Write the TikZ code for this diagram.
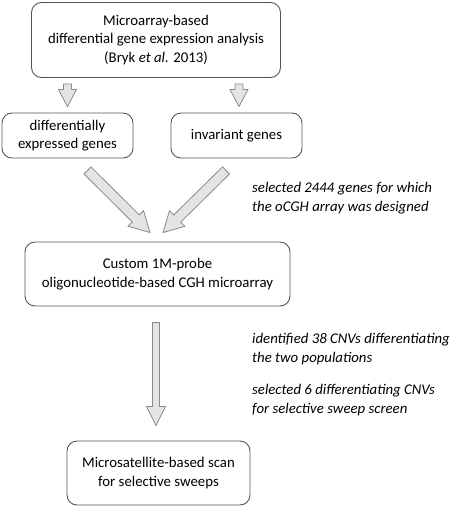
\documentclass[tikz,border=0pt]{standalone}
\usepackage{fontspec}
\setmainfont{Carlito}
\usetikzlibrary{calc}
\definecolor{boxline}{HTML}{555555}
\definecolor{arrfill}{HTML}{E4E4E4}
\definecolor{arrline}{HTML}{8A8A8A}
\tikzset{
  box/.style={draw=boxline, line width=0.9pt, rounded corners=10pt, align=center, inner sep=0pt, font=\fontsize{14.8}{18.5}\selectfont},
  note/.style={anchor=west, align=left, inner sep=0pt, font=\fontsize{14.8}{18.5}\selectfont\itshape},
  blockarr/.style={draw=arrline, fill=arrfill, line width=0.8pt, line join=miter},
}
\newcommand\blockarrow[5]{%
  \path let \p1=(#1), \p2=(#2) in \pgfextra{%
    \pgfmathsetmacro\barang{atan2(\y2-\y1,\x2-\x1)}\xdef\barang{\barang}%
    \pgfmathsetmacro\barlen{veclen(\x2-\x1,\y2-\y1)}\xdef\barlen{\barlen}};
  \begin{scope}[shift={(#1)}, rotate=\barang]
    \draw[blockarr] (0,#3) -- ({\barlen-#5},#3) -- ({\barlen-#5},#4) -- (\barlen,0)
      -- ({\barlen-#5},-#4) -- ({\barlen-#5},-#3) -- (0,-#3) -- cycle;
  \end{scope}}
\begin{document}
\begin{tikzpicture}[x=1pt,y=1pt]
\useasboundingbox (0,0) rectangle (454,-507);
\node[box, minimum width=249pt, minimum height=75pt] (top) at (156,-40)
  {Microarray-based\\differential gene expression analysis\\(Bryk \textit{et al.} 2013)};
\node[box, minimum width=131pt, minimum height=45pt] (left) at (67.5,-135.5)
  {differentially\\expressed genes};
\node[box, minimum width=131pt, minimum height=45pt] (right) at (236.5,-135.5)
  {invariant genes};
\node[box, minimum width=265pt, minimum height=64pt] (mid) at (157.5,-274)
  {Custom 1M-probe\\oligonucleotide-based CGH microarray};
\node[box, minimum width=183pt, minimum height=64pt] (bot) at (158.5,-473)
  {Microsatellite-based scan\\for selective sweeps};
\node[note] (n1) at (252,-198) {selected 2444 genes for which\\the oCGH array was designed};
\node[note] (n2) at (252,-349) {identified 38 CNVs differentiating\\the two populations};
\node[note] (n3) at (252,-400) {selected 6 differentiating CNVs\\for selective sweep screen};
\coordinate (a1s) at ($(top.south -| left.north)+(0,-6)$);
\coordinate (a1e) at ($(left.north)+(0,6)$);
\coordinate (a2s) at ($(top.south -| right.north)+(2.5,-6)$);
\coordinate (a2e) at ($(right.north)+(2.5,6)$);
\coordinate (a3s) at ($(left.south)+(20,-12)$);
\coordinate (a3e) at ($(mid.north)+(-7.5,9)$);
\coordinate (a4s) at ($(right.south)+(-10.5,-12)$);
\coordinate (a4e) at ($(mid.north)+(5.5,9)$);
\coordinate (a5s) at ($(mid.south)+(-1.5,-16)$);
\coordinate (a5e) at ($(bot.north)+(-2.5,15)$);
\blockarrow{a1s}{a1e}{4}{9}{17}
\blockarrow{a2s}{a2e}{4}{9}{17}
\blockarrow{a3s}{a3e}{5}{11}{20}
\blockarrow{a4s}{a4e}{5}{11}{20}
\blockarrow{a5s}{a5e}{3.5}{9.5}{19}
\end{tikzpicture}
\end{document}
